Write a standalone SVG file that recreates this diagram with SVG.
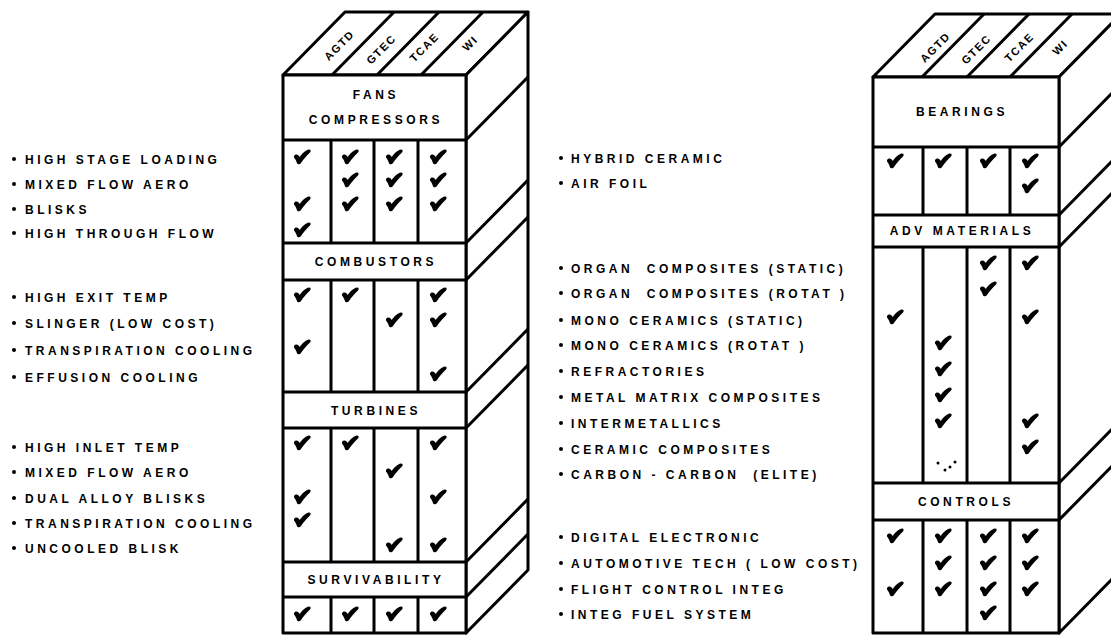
<svg xmlns="http://www.w3.org/2000/svg" xmlns:xlink="http://www.w3.org/1999/xlink" width="1111" height="637" viewBox="0 0 1111 637">
<style>
.ln{fill:none;stroke:#000;stroke-width:3;stroke-linejoin:round}
.face{fill:#fff;stroke:#000;stroke-width:3;stroke-linejoin:round}
.t{font-family:"Liberation Sans",Arial,sans-serif;font-weight:bold;font-size:12px;letter-spacing:3.5px;fill:#000;white-space:pre}
.h{font-family:"Liberation Sans",Arial,sans-serif;font-weight:bold;font-size:12px;letter-spacing:3.6px;fill:#000;text-anchor:middle}
.top{font-family:"Liberation Sans",Arial,sans-serif;font-weight:bold;font-size:11px;letter-spacing:1.6px;fill:#000;text-anchor:middle}
.b{fill:#000}
</style>
<defs>
<path id="chk" d="M -8,-1 C -6,-3.5 -3.5,-2.5 -2.3,0 C 0,-3.5 3.5,-7 7,-7.5 C 9,-7.5 9,-5.8 8,-4.6 C 4.6,-1.2 1.2,2.3 -1.2,6.3 C -2.3,8 -4.6,7.5 -5.2,5.8 C -5.8,3.5 -7,1.7 -8,0.6 Z" fill="#000"/>
</defs>
<rect width="1111" height="637" fill="#fff"/>

<!-- LEFT BLOCK -->
<g id="left-block">
<polygon class="face" points="283,75 345,12 528,12 466,75"/>
<polygon class="face" points="466,75 528,12 528,570 466,633"/>
<rect class="face" x="283" y="75" width="183" height="558"/>
<path class="ln" d="M332,75 L394,12 M377,75 L439,12 M421,75 L483,12"/>
<path class="ln" d="M283,140 H466 M283,243 H466 M283,280 H466 M283,392 H466 M283,428 H466 M283,562 H466 M283,597 H466"/>
<path class="ln" d="M331,140 V243 M374,140 V243 M418,140 V243 M331,280 V392 M374,280 V392 M418,280 V392 M331,428 V562 M374,428 V562 M418,428 V562 M331,597 V633 M374,597 V633 M418,597 V633"/>
<path class="ln" d="M466,140 L528,77 M466,243 L528,180 M466,280 L528,217 M466,392 L528,329 M466,428 L528,365 M466,562 L528,499 M466,597 L528,534"/>
<text class="top" transform="translate(342,48) rotate(-45)">AGTD</text>
<text class="top" transform="translate(384,52) rotate(-45)">GTEC</text>
<text class="top" transform="translate(427,50) rotate(-45)">TCAE</text>
<text class="top" transform="translate(473,46) rotate(-45)">WI</text>
<text class="h" x="376" y="99">FANS</text>
<text class="h" x="376" y="124">COMPRESSORS</text>
<text class="h" x="376" y="266">COMBUSTORS</text>
<text class="h" x="376" y="415">TURBINES</text>
<text class="h" x="376" y="584">SURVIVABILITY</text>
</g>

<g id="left-checks">
<use href="#chk" x="302" y="157"/><use href="#chk" x="350" y="157"/><use href="#chk" x="394" y="157"/><use href="#chk" x="438" y="157"/>
<use href="#chk" x="350" y="180"/><use href="#chk" x="394" y="180"/><use href="#chk" x="438" y="180"/>
<use href="#chk" x="302" y="204"/><use href="#chk" x="350" y="204"/><use href="#chk" x="394" y="204"/><use href="#chk" x="438" y="204"/>
<use href="#chk" x="302" y="230"/>
<use href="#chk" x="302" y="295"/><use href="#chk" x="350" y="295"/><use href="#chk" x="438" y="295"/>
<use href="#chk" x="394" y="320"/><use href="#chk" x="438" y="320"/>
<use href="#chk" x="302" y="347"/>
<use href="#chk" x="438" y="374"/>
<use href="#chk" x="302" y="443"/><use href="#chk" x="350" y="443"/><use href="#chk" x="438" y="443"/>
<use href="#chk" x="394" y="471"/>
<use href="#chk" x="302" y="497"/><use href="#chk" x="438" y="497"/>
<use href="#chk" x="302" y="520"/>
<use href="#chk" x="394" y="545"/><use href="#chk" x="438" y="545"/>
<use href="#chk" x="302" y="614"/><use href="#chk" x="350" y="614"/><use href="#chk" x="394" y="614"/><use href="#chk" x="438" y="614"/>
</g>

<!-- RIGHT BLOCK -->
<g id="right-block">
<polygon class="face" points="873,77 935,14 1121,14 1059,77"/>
<polygon class="face" points="1059,77 1121,14 1121,570 1059,633"/>
<rect class="face" x="873" y="77" width="186" height="556"/>
<path class="ln" d="M922,77 L984,14 M967,77 L1029,14 M1010,77 L1072,14"/>
<path class="ln" d="M873,147 H1059 M873,215 H1059 M873,247 H1059 M873,483 H1059 M873,520 H1059"/>
<path class="ln" d="M923,147 V215 M967,147 V215 M1010,147 V215 M923,247 V483 M967,247 V483 M1010,247 V483 M923,520 V633 M967,520 V633 M1010,520 V633"/>
<path class="ln" d="M1059,147 L1121,84 M1059,215 L1121,152 M1059,247 L1121,184 M1059,483 L1121,420 M1059,520 L1121,457"/>
<text class="top" transform="translate(938,50) rotate(-45)">AGTD</text>
<text class="top" transform="translate(979,52) rotate(-45)">GTEC</text>
<text class="top" transform="translate(1022,50) rotate(-45)">TCAE</text>
<text class="top" transform="translate(1063,50) rotate(-45)">WI</text>
<text class="h" x="962" y="116">BEARINGS</text>
<text class="h" x="962" y="235">ADV MATERIALS</text>
<text class="h" x="966" y="506">CONTROLS</text>
</g>

<g id="right-checks">
<use href="#chk" x="895" y="161"/><use href="#chk" x="943" y="161"/><use href="#chk" x="988" y="161"/><use href="#chk" x="1030" y="161"/>
<use href="#chk" x="1030" y="186"/>
<use href="#chk" x="988" y="263"/><use href="#chk" x="1030" y="263"/>
<use href="#chk" x="988" y="289"/>
<use href="#chk" x="895" y="317"/><use href="#chk" x="1030" y="317"/>
<use href="#chk" x="943" y="343"/>
<use href="#chk" x="943" y="369"/>
<use href="#chk" x="943" y="395"/>
<use href="#chk" x="943" y="421"/><use href="#chk" x="1030" y="421"/>
<use href="#chk" x="1030" y="447"/>
<circle class="b" cx="938" cy="463" r="1.5"/><circle class="b" cx="945" cy="470" r="1.5"/><circle class="b" cx="950" cy="467" r="1.5"/><circle class="b" cx="955" cy="462" r="1.5"/>
<use href="#chk" x="895" y="536"/><use href="#chk" x="943" y="536"/><use href="#chk" x="988" y="536"/><use href="#chk" x="1030" y="536"/>
<use href="#chk" x="943" y="563"/><use href="#chk" x="988" y="563"/><use href="#chk" x="1030" y="563"/>
<use href="#chk" x="895" y="589"/><use href="#chk" x="943" y="589"/><use href="#chk" x="988" y="589"/><use href="#chk" x="1030" y="589"/>
<use href="#chk" x="988" y="613"/>
</g>

<!-- LEFT LIST -->
<g id="left-list">
<circle class="b" cx="14" cy="159" r="2"/><text class="t" x="25" y="163.5">HIGH STAGE LOADING</text>
<circle class="b" cx="14" cy="184" r="2"/><text class="t" x="25" y="188.5">MIXED FLOW AERO</text>
<circle class="b" cx="14" cy="209" r="2"/><text class="t" x="25" y="213.5">BLISKS</text>
<circle class="b" cx="14" cy="233" r="2"/><text class="t" x="25" y="237.5">HIGH THROUGH FLOW</text>
<circle class="b" cx="14" cy="297" r="2"/><text class="t" x="25" y="301.5">HIGH EXIT TEMP</text>
<circle class="b" cx="14" cy="323" r="2"/><text class="t" x="25" y="327.5">SLINGER (LOW COST)</text>
<circle class="b" cx="14" cy="350" r="2"/><text class="t" x="25" y="354.5">TRANSPIRATION COOLING</text>
<circle class="b" cx="14" cy="377" r="2"/><text class="t" x="25" y="381.5">EFFUSION COOLING</text>
<circle class="b" cx="14" cy="447" r="2"/><text class="t" x="25" y="451.5">HIGH INLET TEMP</text>
<circle class="b" cx="14" cy="472" r="2"/><text class="t" x="25" y="476.5">MIXED FLOW AERO</text>
<circle class="b" cx="14" cy="498" r="2"/><text class="t" x="25" y="502.5">DUAL ALLOY BLISKS</text>
<circle class="b" cx="14" cy="523" r="2"/><text class="t" x="25" y="527.5">TRANSPIRATION COOLING</text>
<circle class="b" cx="14" cy="548" r="2"/><text class="t" x="25" y="552.5">UNCOOLED BLISK</text>
</g>

<!-- RIGHT LIST -->
<g id="right-list">
<circle class="b" cx="561" cy="158" r="2"/><text class="t" x="571" y="162.5">HYBRID CERAMIC</text>
<circle class="b" cx="561" cy="183" r="2"/><text class="t" x="571" y="187.5">AIR FOIL</text>
<circle class="b" cx="561" cy="268" r="2"/><text class="t" x="571" y="272.5">ORGAN  COMPOSITES (STATIC)</text>
<circle class="b" cx="561" cy="293" r="2"/><text class="t" x="571" y="297.5">ORGAN  COMPOSITES (ROTAT )</text>
<circle class="b" cx="561" cy="320" r="2"/><text class="t" x="571" y="324.5">MONO CERAMICS (STATIC)</text>
<circle class="b" cx="561" cy="345" r="2"/><text class="t" x="571" y="349.5">MONO CERAMICS (ROTAT )</text>
<circle class="b" cx="561" cy="371" r="2"/><text class="t" x="571" y="375.5">REFRACTORIES</text>
<circle class="b" cx="561" cy="397" r="2"/><text class="t" x="571" y="401.5">METAL MATRIX COMPOSITES</text>
<circle class="b" cx="561" cy="423" r="2"/><text class="t" x="571" y="427.5">INTERMETALLICS</text>
<circle class="b" cx="561" cy="449" r="2"/><text class="t" x="571" y="453.5">CERAMIC COMPOSITES</text>
<circle class="b" cx="561" cy="474" r="2"/><text class="t" x="571" y="478.5">CARBON - CARBON  (ELITE)</text>
<circle class="b" cx="561" cy="537" r="2"/><text class="t" x="571" y="541.5">DIGITAL ELECTRONIC</text>
<circle class="b" cx="561" cy="563" r="2"/><text class="t" x="571" y="567.5">AUTOMOTIVE TECH ( LOW COST)</text>
<circle class="b" cx="561" cy="589" r="2"/><text class="t" x="571" y="593.5">FLIGHT CONTROL INTEG</text>
<circle class="b" cx="561" cy="614" r="2"/><text class="t" x="571" y="618.5">INTEG FUEL SYSTEM</text>
</g>
</svg>
